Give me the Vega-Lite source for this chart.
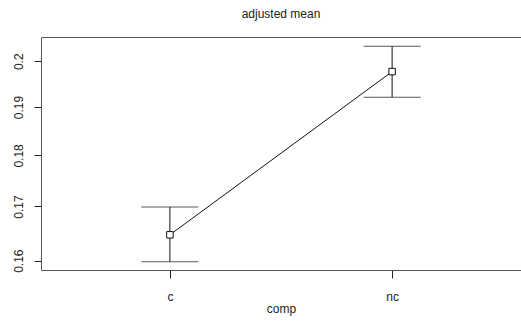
{
  "$schema": "https://vega.github.io/schema/vega-lite/v6.json",
  "autosize": "none",
  "width": 480,
  "height": 233,
  "padding": {"left": 41, "top": 37, "right": 0, "bottom": 55},
  "background": "white",
  "title": {
    "text": "adjusted mean",
    "font": "Liberation Sans",
    "fontSize": 12,
    "fontWeight": "normal",
    "color": "#222",
    "anchor": "middle",
    "baseline": "alphabetic",
    "offset": 7
  },
  "config": {
    "view": {"stroke": null},
    "axis": {
      "labelFont": "Liberation Sans",
      "labelFontSize": 12,
      "labelColor": "#222",
      "titleFont": "Liberation Sans",
      "titleFontSize": 12,
      "titleFontWeight": "normal",
      "titleColor": "#222",
      "domainColor": "#555",
      "domainWidth": 1,
      "tickColor": "#222",
      "grid": false
    }
  },
  "data": {
    "values": [
      {"comp": "c", "mean": 0.1647, "lower": 0.1598, "upper": 0.1699},
      {"comp": "nc", "mean": 0.1977, "lower": 0.1921, "upper": 0.2034}
    ]
  },
  "resolve": {"axis": {"x": "independent"}},
  "layer": [
    {
      "mark": {"type": "line", "color": "#111", "strokeWidth": 1},
      "encoding": {
        "x": {
          "field": "comp",
          "type": "nominal",
          "scale": {"type": "point", "padding": 0.58},
          "axis": {
            "orient": "bottom",
            "labelAngle": 0,
            "tickSize": 8,
            "labelBaseline": "top",
            "labelPadding": 13,
            "title": "comp",
            "titleBaseline": "alphabetic",
            "titleY": 42
          }
        },
        "y": {
          "field": "mean",
          "type": "quantitative",
          "title": null,
          "scale": {"type": "log", "domain": [0.15834, 0.2055], "nice": false, "zero": false},
          "axis": {
            "values": [0.16, 0.17, 0.18, 0.19, 0.2],
            "format": ".2~f",
            "tickSize": 7,
            "labelAngle": 270,
            "labelAlign": "center",
            "labelBaseline": "bottom",
            "labelPadding": 9
          }
        }
      }
    },
    {
      "mark": {"type": "rule", "color": "#111", "strokeWidth": 1},
      "encoding": {
        "x": {"field": "comp", "type": "nominal", "axis": null},
        "y": {"field": "lower", "type": "quantitative", "title": null},
        "y2": {"field": "upper"}
      }
    },
    {
      "mark": {"type": "tick", "color": "#111", "thickness": 1, "size": 57},
      "encoding": {
        "x": {"field": "comp", "type": "nominal", "axis": null},
        "y": {"field": "lower", "type": "quantitative", "title": null}
      }
    },
    {
      "mark": {"type": "tick", "color": "#111", "thickness": 1, "size": 57},
      "encoding": {
        "x": {"field": "comp", "type": "nominal", "axis": null},
        "y": {"field": "upper", "type": "quantitative", "title": null}
      }
    },
    {
      "mark": {"type": "point", "shape": "square", "size": 42, "filled": true, "fill": "white", "stroke": "#111", "strokeWidth": 1, "opacity": 1},
      "encoding": {
        "x": {
          "field": "comp",
          "type": "nominal",
          "axis": {"orient": "top", "labels": false, "ticks": false, "title": null}
        },
        "y": {"field": "mean", "type": "quantitative", "title": null}
      }
    }
  ]
}
